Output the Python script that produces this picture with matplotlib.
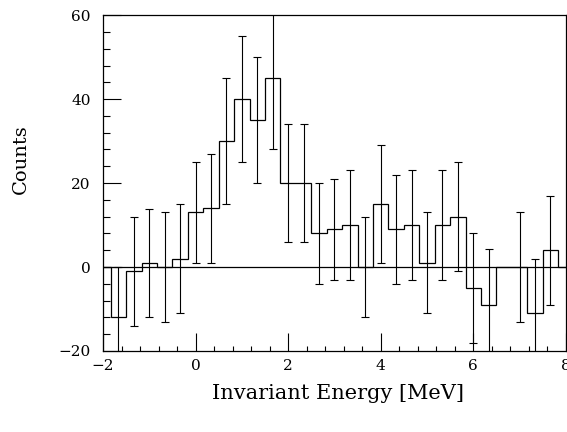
import numpy as np
import matplotlib
matplotlib.use('Agg')
import matplotlib.pyplot as plt
from matplotlib.ticker import MultipleLocator

# bin centres [MeV], counts and errors
centers = [-2.0, -1.667, -1.333, -1.0, -0.667, -0.333, 0.0, 0.333, 0.667, 1.0,
           1.333, 1.667, 2.0, 2.333, 2.667, 3.0, 3.333, 3.667, 4.0, 4.333,
           4.667, 5.0, 5.333, 5.667, 6.0, 6.333, 6.667, 7.0, 7.333, 7.667, 8.0]
counts = [0, -12, -1, 1, 0, 2, 13, 14, 30, 40,
          35, 45, 20, 20, 8, 9, 10, 0, 15, 9,
          10, 1, 10, 12, -5, -9, 0, 0, -11, 4, 0]
errors = [np.nan, 12, 13, 12.8, 13, 13, 12, 13, 15, 15,
          15, 17, 14, 14, 12, 12, 13, 12, 14, 13,
          13, 12, 13, 13, 13, 13.2, np.nan, 13, 13, 13, np.nan]

plt.rcParams['font.family'] = ['DejaVu Serif']

fig = plt.figure(figsize=(5.67, 4.32), dpi=100)
ax = fig.add_axes([0.1817, 0.1875, 0.8163, 0.7775])

c = np.array(centers)
w = 1.0 / 3.0
edges = np.append(c - w / 2, c[-1] + w / 2)
ax.stairs(counts, edges, baseline=None, color='black', linewidth=0.9)
ax.errorbar(c, counts, yerr=errors, fmt='none', ecolor='black',
            elinewidth=0.8, capsize=3, capthick=0.8)
ax.axhline(0, color='black', linewidth=0.9)

ax.set_xlim(-2, 8)
ax.set_ylim(-20, 60)
ax.xaxis.set_major_locator(MultipleLocator(2))
ax.xaxis.set_minor_locator(MultipleLocator(0.4))
ax.yaxis.set_major_locator(MultipleLocator(20))
ax.yaxis.set_minor_locator(MultipleLocator(4))
ax.tick_params(which='both', direction='in', top=False, right=False,
               labelsize=11, width=0.8)
ax.tick_params(axis='y', which='major', length=13, pad=9)
ax.tick_params(axis='y', which='minor', length=5)
ax.tick_params(axis='x', which='major', length=13, pad=6)
ax.tick_params(axis='x', which='minor', length=3.5)
for sp in ax.spines.values():
    sp.set_linewidth(0.9)

ax.set_xlabel('Invariant Energy [MeV]', fontsize=15)
ax.set_ylabel('Counts', fontsize=14)
ax.xaxis.set_label_coords(0.507, -0.098)
ax.yaxis.set_label_coords(-0.158, 0.571)

fig.savefig('out.png', dpi=100)
